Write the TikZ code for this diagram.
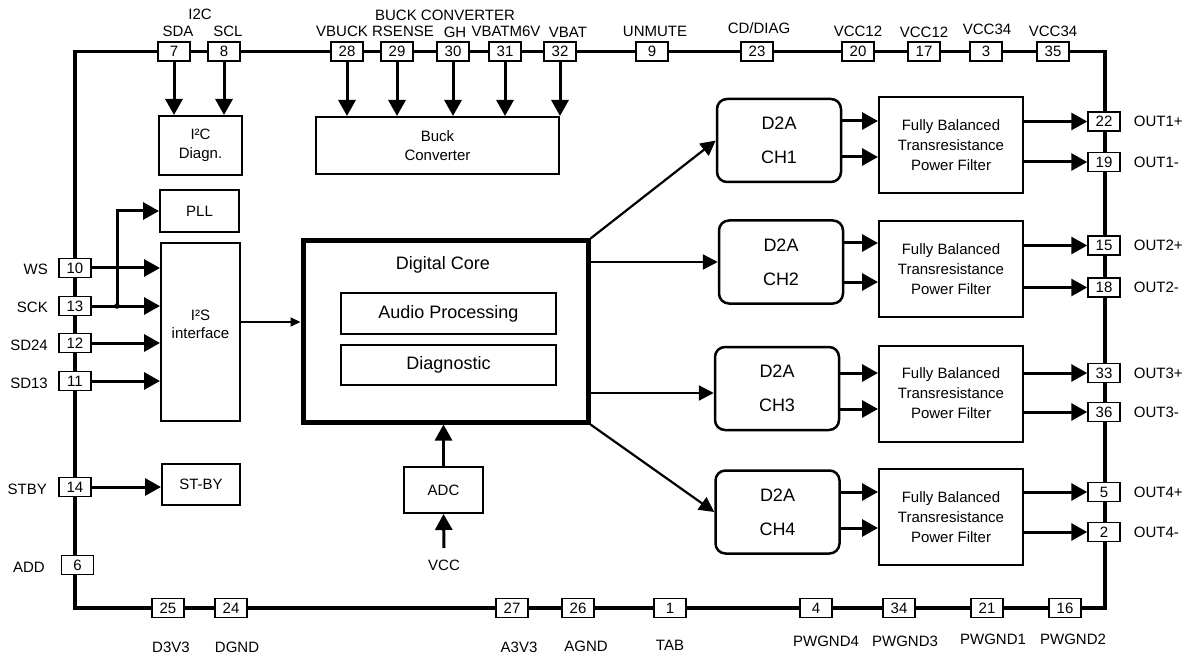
\documentclass[tikz,border=0pt]{standalone}
\usepackage{fontspec}
\setmainfont{Liberation Sans}
\usetikzlibrary{arrows.meta}
\begin{document}
\begin{tikzpicture}[x=1pt,y=-1pt,
  lbl/.style={font=\fontsize{15}{17}\selectfont, inner sep=0pt},
  pinbox/.style={draw, line width=1.5pt, fill=white, minimum width=32pt, minimum height=19pt, inner sep=0pt, font=\fontsize{15}{17}\selectfont},
  blk/.style={draw, line width=2pt, align=center, inner sep=0pt, font=\fontsize{15}{19}\selectfont},
  d2a/.style={draw, line width=2.5pt, rounded corners=10pt, minimum width=124pt, minimum height=83pt, align=center, inner sep=0pt, font=\fontsize{18}{34}\selectfont},
  filt/.style={blk, minimum width=144pt, minimum height=96pt, font=\fontsize{15}{20}\selectfont},
  arrbig/.style={-{Triangle[length=16pt,width=17pt]}, line width=3pt},
  arrmed/.style={-{Triangle[length=15pt,width=15pt]}, line width=2.2pt},
  arrsm/.style={-{Triangle[length=10pt,width=9pt]}, line width=1.5pt},
]
\useasboundingbox (0,0) rectangle (1196,660);

% outer border
\draw[line width=3.5pt] (75,51.5) rectangle (1105,608);

% top pins
\foreach \n/\x in {7/174,8/224,28/347,29/397,30/453,31/505,32/560,9/652,23/757,20/858,17/924,3/986,35/1053}
  \node[pinbox] (p\n) at (\x,51.5) {\n};
% left pins
\foreach \n/\y in {10/268,13/306,12/343,11/381,14/487}
  \node[pinbox] (p\n) at (75,\y) {\n};
\node[pinbox] (p6) at (77.5,565) {6};
% right pins
\foreach \n/\y in {22/121.5,19/162,15/245.5,18/287.5,33/373,36/412,5/492,2/532}
  \node[pinbox] (p\n) at (1104,\y) {\n};
% bottom pins
\foreach \n/\x in {25/168,24/231,27/512,26/578,1/670,4/816,34/899,21/987,16/1065}
  \node[pinbox] (p\n) at (\x,608) {\n};

% top labels
\node[lbl] (li2c) at (200,14) {I2C};
\node[lbl] (lsda) at (178,31) {SDA};
\node[lbl] (lscl) at (228,31) {SCL};
\node[lbl] (lbuckc) at (445,15) {BUCK CONVERTER};
\node[lbl] (lvbuck) at (342,31) {VBUCK};
\node[lbl] (lrsense) at (403,31) {RSENSE};
\node[lbl] (lgh) at (455,32) {GH};
\node[lbl] (lvbatm) at (506,31) {VBATM6V};
\node[lbl] (lvbat) at (568,32) {VBAT};
\node[lbl] (lunmute) at (655,31) {UNMUTE};
\node[lbl] (lcd) at (759,28) {CD/DIAG};
\node[lbl] (lvcca) at (858,31) {VCC12};
\node[lbl] (lvccb) at (924,32) {VCC12};
\node[lbl] (lvccc) at (987,29) {VCC34};
\node[lbl] (lvccd) at (1053,31) {VCC34};

% left labels
\node[lbl, anchor=east] (lws) at (48,269) {WS};
\node[lbl, anchor=east] (lsck) at (48,307) {SCK};
\node[lbl, anchor=east] (lsd24) at (48,345) {SD24};
\node[lbl, anchor=east] (lsd13) at (48,383) {SD13};
\node[lbl, anchor=east] (lstby) at (47,489) {STBY};
\node[lbl, anchor=east] (ladd) at (45,567) {ADD};

% right labels
\foreach \n/\t in {22/OUT1+,19/OUT1-,15/OUT2+,18/OUT2-,33/OUT3+,36/OUT3-,5/OUT4+,2/OUT4-}
  \node[lbl, anchor=west] (lo\n) at ([xshift=13pt]p\n.east) {\t};

% bottom labels
\node[lbl] (ld3v3) at (171,647) {D3V3};
\node[lbl] (ldgnd) at (237,647) {DGND};
\node[lbl] (la3v3) at (519,647) {A3V3};
\node[lbl] (lagnd) at (586,646) {AGND};
\node[lbl] (ltab) at (670,645) {TAB};
\node[lbl] (lpw4) at (826,641) {PWGND4};
\node[lbl] (lpw3) at (905,641) {PWGND3};
\node[lbl] (lpw1) at (993,639) {PWGND1};
\node[lbl] (lpw2) at (1073,639) {PWGND2};

% blocks
\node[blk, minimum width=83pt, minimum height=59pt] (diag) at (200.5,145.5) {I²C\\Diagn.};
\node[blk, minimum width=243pt, minimum height=57pt] (buck) at (437.5,145.5) {Buck\\Converter};
\node[blk, minimum width=79pt, minimum height=42pt] (pll) at (199.5,211) {PLL};
\node[blk, minimum width=79pt, minimum height=178pt] (i2s) at (200.5,332) {};
\node[lbl, align=center, font=\fontsize{15}{18}\selectfont] (i2st) at (200.5,324) {I²S\\interface};
\node[blk, minimum width=78pt, minimum height=41pt] (stby) at (201,484.5) {ST-BY};
\node[blk, minimum width=79pt, minimum height=46pt] (adc) at (443.5,490) {ADC};
\node[lbl] (vcc) at (444,565) {VCC};
\coordinate (vcct) at (444,548);

% digital core
\node[draw, line width=5pt, minimum width=285pt, minimum height=181pt, inner sep=0pt] (core) at (445.5,331.5) {};
\node[lbl, font=\fontsize{18}{20}\selectfont] (coret) at (443,265) {Digital Core};
\node[blk, minimum width=215pt, minimum height=41pt, font=\fontsize{18}{20}\selectfont] (audio) at (448.5,313.5) {Audio Processing};
\node[blk, minimum width=215pt, minimum height=40pt, font=\fontsize{18}{20}\selectfont] (dgn) at (448.5,365) {Diagnostic};

% D2A and filters
\node[d2a] (ch1) at (779,140.5) {D2A\\CH1};
\node[d2a] (ch2) at (781,262) {D2A\\CH2};
\node[d2a] (ch3) at (777,388.5) {D2A\\CH3};
\node[d2a] (ch4) at (777.5,512) {D2A\\CH4};
\foreach \i/\y in {1/145,2/269,3/393.5,4/517}
  \node[filt] (f\i) at (951,\y) {Fully Balanced\\Transresistance\\Power Filter};

% top connections
\foreach \n in {7,8} \draw[arrbig] (p\n.south) -- (p\n.south |- diag.north);
\foreach \n in {28,29,30,31,32} \draw[arrbig] (p\n.south) -- (p\n.south |- buck.north);

% left connections
\coordinate (jn) at (117,306);
\draw[arrbig] (p10.east) -- (p10.east -| i2s.west);
\draw[arrbig] (p13.east) -- (p13.east -| i2s.west);
\draw[arrbig] (jn) |- (pll.west);
\fill (jn) circle (2.8pt);
\draw[arrbig] (p12.east) -- (p12.east -| i2s.west);
\draw[arrbig] (p11.east) -- (p11.east -| i2s.west);
\draw[arrbig] (p14.east) -- (p14.east -| stby.west);

% core connections
\draw[arrsm] (i2s.east |- 0,322) -- (core.west |- 0,322);
\draw[arrbig] (adc.north) -- (adc.north |- core.south);
\draw[arrbig] (vcct) -- (adc.south);
\draw[arrmed] (core.north east) -- (ch1.west);
\draw[arrmed] (core.east |- ch2.west) -- (ch2.west);
\draw[arrmed] (core.east |- 0,393) -- (ch3.west |- 0,393);
\draw[arrmed] (core.south east) -- (ch4.west);

% D2A to filter
\foreach \i/\ya/\yb in {1/121/157,2/243/282,3/373/409,4/492/528}{
  \draw[arrbig] (ch\i.east |- 0,\ya) -- (f\i.west |- 0,\ya);
  \draw[arrbig] (ch\i.east |- 0,\yb) -- (f\i.west |- 0,\yb);
}
% filter to pins
\foreach \i/\pa/\pb in {1/22/19,2/15/18,3/33/36,4/5/2}{
  \draw[arrbig] (f\i.east |- p\pa.west) -- (p\pa.west);
  \draw[arrbig] (f\i.east |- p\pb.west) -- (p\pb.west);
}
\end{tikzpicture}
\end{document}
